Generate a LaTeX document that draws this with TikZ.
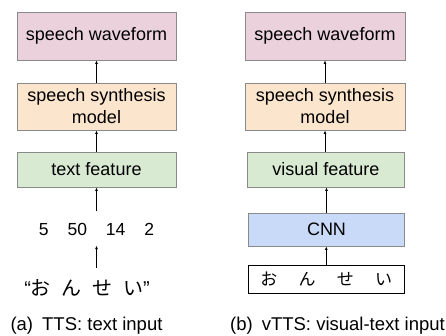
\documentclass[tikz,border=0pt]{standalone}
\usepackage{fontspec}
\setmainfont{Liberation Sans}
\newfontfamily\jp{Noto Sans CJK JP}
\usetikzlibrary{arrows.meta}
\definecolor{pinkf}{HTML}{EAD1DC}
\definecolor{orangef}{HTML}{FCE5CD}
\definecolor{greenf}{HTML}{D9EAD3}
\definecolor{bluef}{HTML}{C9DAF8}
\definecolor{edgec}{HTML}{8A8A8A}
\begin{document}
\begin{tikzpicture}[x=1pt,y=-1pt,
  box/.style={draw=edgec, line width=0.9pt, minimum width=159pt, inner sep=0pt, align=center,
    font=\fontsize{18}{22}\selectfont},
  arr/.style={-{Latex[length=3.5pt,width=3pt]}, line width=0.8pt},
  captxt/.style={font=\fontsize{18.5}{22}\selectfont, inner sep=0pt, anchor=base}]
\useasboundingbox (0,0) rectangle (446,335);
% left column
\node[box, fill=pinkf, minimum height=48pt] (wa) at (96.5,36) {speech waveform};
\node[box, fill=orangef, minimum height=47pt] (sa) at (96.5,106.5) {speech synthesis\\model};
\node[box, fill=greenf, minimum height=35pt] (fa) at (96.5,169.5) {text feature};
\node[font=\fontsize{17.5}{20}\selectfont, anchor=base, inner xsep=0pt, inner ysep=10.5pt,
  text height=13pt, text depth=0pt] (num) at (96.5,235) {5\hspace{19pt}50\hspace{19pt}14\hspace{19pt}2};
\node[font=\fontsize{20}{24}\selectfont, anchor=base, inner xsep=0pt, inner ysep=12pt,
  text height=15pt, text depth=3pt] (hira) at (87,295)
  {“{\jp お\hspace{10.7pt}ん\hspace{10.7pt}せ\hspace{10.7pt}い}”};
\draw[arr] (sa.north) -- (wa.south);
\draw[arr] (fa.north) -- (sa.south);
\draw[arr] (num.north) -- (fa.south);
\draw[arr] (num.south |- hira.north) -- (num.south);
\node[captxt] (capa) at (86.5,330) {(a)\hspace{9pt}TTS: text input};
% right column
\node[box, fill=pinkf, minimum height=48pt, minimum width=160pt] (wb) at (325,36) {speech waveform};
\node[box, fill=orangef, minimum height=47pt, minimum width=160pt] (sb) at (325,106.5) {speech synthesis\\model};
\node[box, fill=greenf, minimum height=35pt, minimum width=157pt] (fb) at (325.8,169.5) {visual feature};
\node[box, fill=bluef, minimum height=33pt, minimum width=156pt] (cnn) at (326.5,229.5) {CNN};
\node[box, draw=black, fill=white, minimum height=28pt, minimum width=156pt,
  font=\fontsize{17}{20}\jp] (img) at (326.3,279)
  {\raisebox{-3pt}{お\hspace{21.3pt}ん\hspace{21.3pt}せ\hspace{21.3pt}い}};
\draw[arr] (sb.north) -- (sb.north |- wb.south);
\draw[arr] (sb.south |- fb.north) -- (sb.south);
\draw[arr] (cnn.north) -- (cnn.north |- fb.south);
\draw[arr] (img.north) -- (img.north |- cnn.south);
\node[captxt] (capb) at (337.5,330) {(b)\hspace{9pt}vTTS: visual-text input};
\end{tikzpicture}
\end{document}
